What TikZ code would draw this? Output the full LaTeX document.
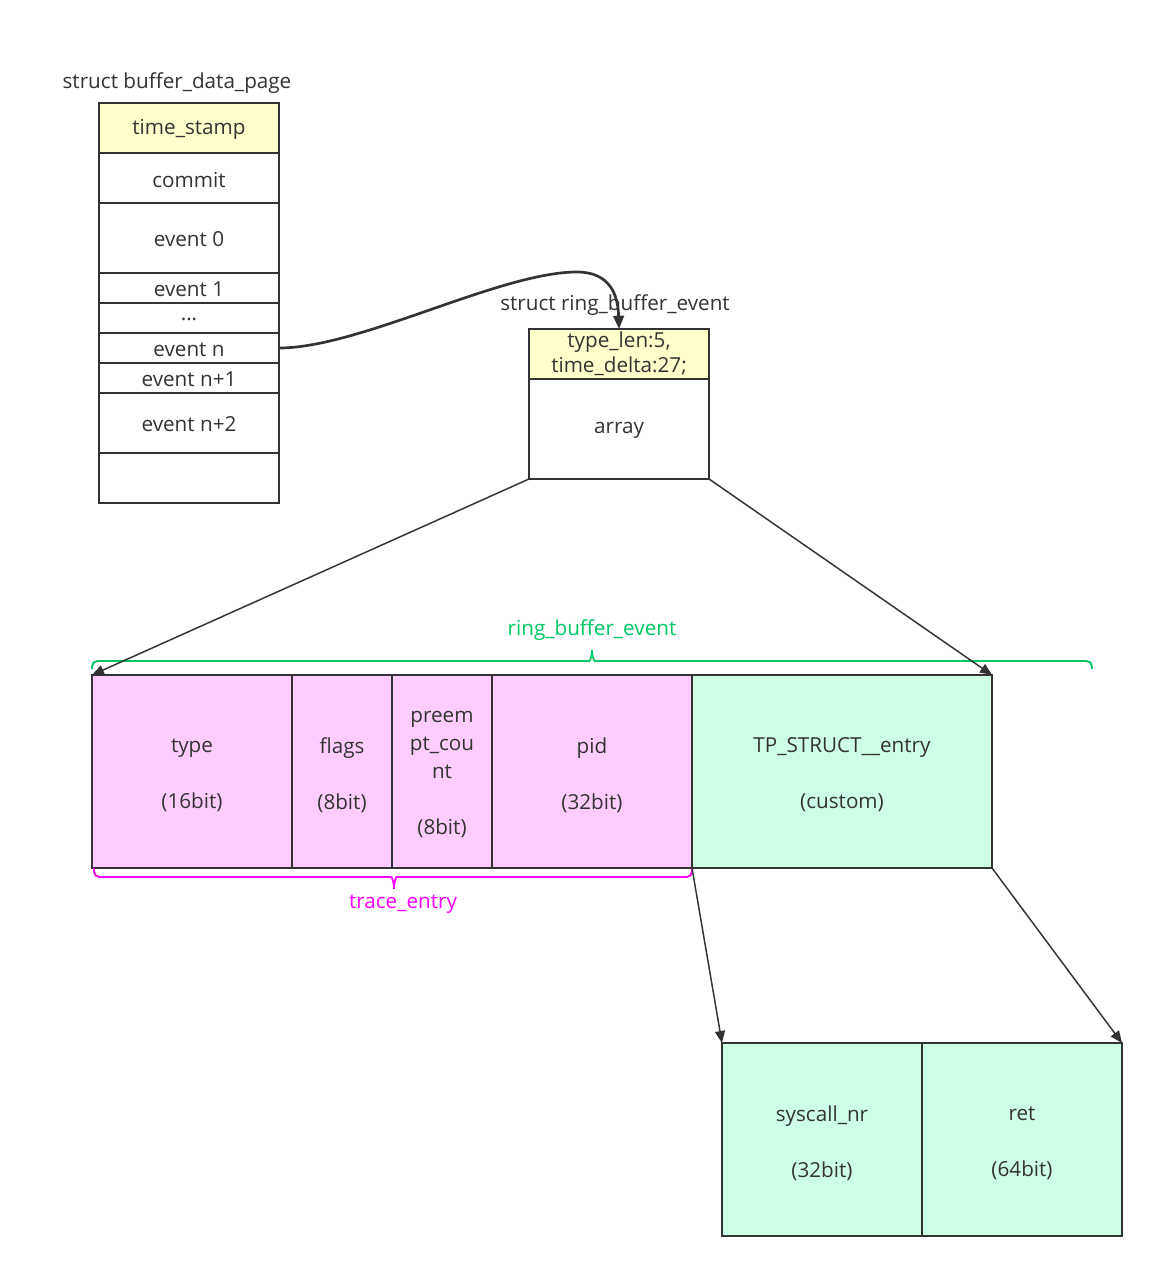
\documentclass[tikz,border=0pt]{standalone}
\usepackage{fontspec}
\setmainfont{Open Sans}
\usetikzlibrary{arrows.meta}
\definecolor{lc}{HTML}{333333}
\definecolor{yel}{HTML}{FFFFCC}
\definecolor{pnk}{HTML}{FFCCFF}
\definecolor{grn}{HTML}{CCFFE6}
\definecolor{gbr}{HTML}{00C864}
\definecolor{mbr}{HTML}{FF00FF}
\begin{document}
\begin{tikzpicture}[x=0.75pt,y=-0.75pt,
  sz/.style 2 args={minimum width=#1*0.75pt, minimum height=#2*0.75pt},
  cell/.style={draw=lc, line width=1.4pt, inner sep=0pt, outer sep=0pt},
  lab/.style={text=lc, align=center, inner sep=0pt, font=\fontsize{15.5}{21}\selectfont},
  txt/.style={label={[lab, yshift=-1.2pt]center:{#1}}},
  txtm/.style={label={[lab, yshift=-2.6pt]center:{#1}}},
  title/.style={text=lc, font=\fontsize{15.5}{21}\selectfont, inner sep=0pt},
  conn/.style={draw=lc, line width=1.1pt, -{Triangle[length=9pt,width=7.5pt]}},
  lbl/.style={font=\fontsize{15.5}{21}\selectfont, inner sep=0pt}
]
\useasboundingbox[fill=white] (0,0) rectangle (1154,1269);

% buffer_data_page
\node[title] (t1) at (177,83) {struct buffer\_data\_page};
\node[cell, sz={180}{50}, fill=yel, txt={time\_stamp}] (ts) at (189,128) {};
\node[cell, sz={180}{50}, fill=white, txt={commit}] (commit) at (189,178) {};
\node[cell, sz={180}{70}, fill=white, txt={event 0}] (ev0) at (189,238) {};
\node[cell, sz={180}{30}, fill=white, txt={event 1}] (ev1) at (189,288) {};
\node[cell, sz={180}{30}, fill=white, txt={...}] (dots) at (189,318) {};
\node[cell, sz={180}{30}, fill=white, txt={event n}] (evn) at (189,348) {};
\node[cell, sz={180}{30}, fill=white, txt={event n+1}] (evn1) at (189,378) {};
\node[cell, sz={180}{60}, fill=white, txt={event n+2}] (evn2) at (189,423) {};
\node[cell, sz={180}{50}, fill=white] (blank) at (189,478) {};

% ring_buffer_event
\node[title] (t2) at (615,305) {struct ring\_buffer\_event};
\node[cell, sz={180}{50}, fill=yel, label={[lab, font=\fontsize{15.5}{18.75}\selectfont]center:{type\_len:5,\\time\_delta:27;}}] (tl) at (619,354) {};
\node[cell, sz={180}{100}, fill=white, txt={array}] (arr) at (619,429) {};

% entry row
\node[cell, sz={200}{193}, fill=pnk, txtm={type\\[21pt](16bit)}] (type) at (192,771.5) {};
\node[cell, sz={100}{193}, fill=pnk, txtm={flags\\[21pt](8bit)}] (flags) at (342,771.5) {};
\node[cell, sz={100}{193}, fill=pnk, txtm={preem\\pt\_cou\\nt\\[21pt](8bit)}] (pre) at (442,771.5) {};
\node[cell, sz={200}{193}, fill=pnk, txtm={pid\\[21pt](32bit)}] (pid) at (592,771.5) {};
\node[cell, sz={300}{193}, fill=grn, txtm={TP\_STRUCT\_\_entry\\[21pt](custom)}] (tp) at (842,771.5) {};

% bottom row
\node[cell, sz={200}{193}, fill=grn, txtm={syscall\_nr\\[21pt](32bit)}] (sys) at (822,1139.5) {};
\node[cell, sz={200}{193}, fill=grn, txtm={ret\\[21pt](64bit)}] (ret) at (1022,1139.5) {};

% braces
\draw[gbr, line width=1.4pt, rounded corners=4pt] (92,669) -- (92,661) -- (584,661)
  .. controls (590,661) and (592,655) .. (592,647)
  .. controls (592,655) and (594,661) .. (600,661) -- (1092,661) -- (1092,669);
\node[lbl, text=gbr] (rbe) at (592,630) {ring\_buffer\_event};

\draw[mbr, line width=1.4pt, rounded corners=4pt] (94,868) -- (94,877) -- (386,877)
  .. controls (392,877) and (394,883) .. (394,892)
  .. controls (394,883) and (396,877) .. (402,877) -- (692,877) -- (692,868);
\node[lbl, text=mbr] (te) at (403,904) {trace\_entry};

% connectors
\draw[lc, line width=2pt, -{Triangle[length=10pt,width=8pt]}] (evn.east) .. controls (360,348) and (500,272) .. (577,272)
  .. controls (610,272) and (618,295) .. (tl.north);
\draw[conn] (arr.south west) -- (type.north west);
\draw[conn] (arr.south east) -- (tp.north east);
\draw[conn] (tp.south west) -- (sys.north west);
\draw[conn] (tp.south east) -- (ret.north east);
\end{tikzpicture}
\end{document}
